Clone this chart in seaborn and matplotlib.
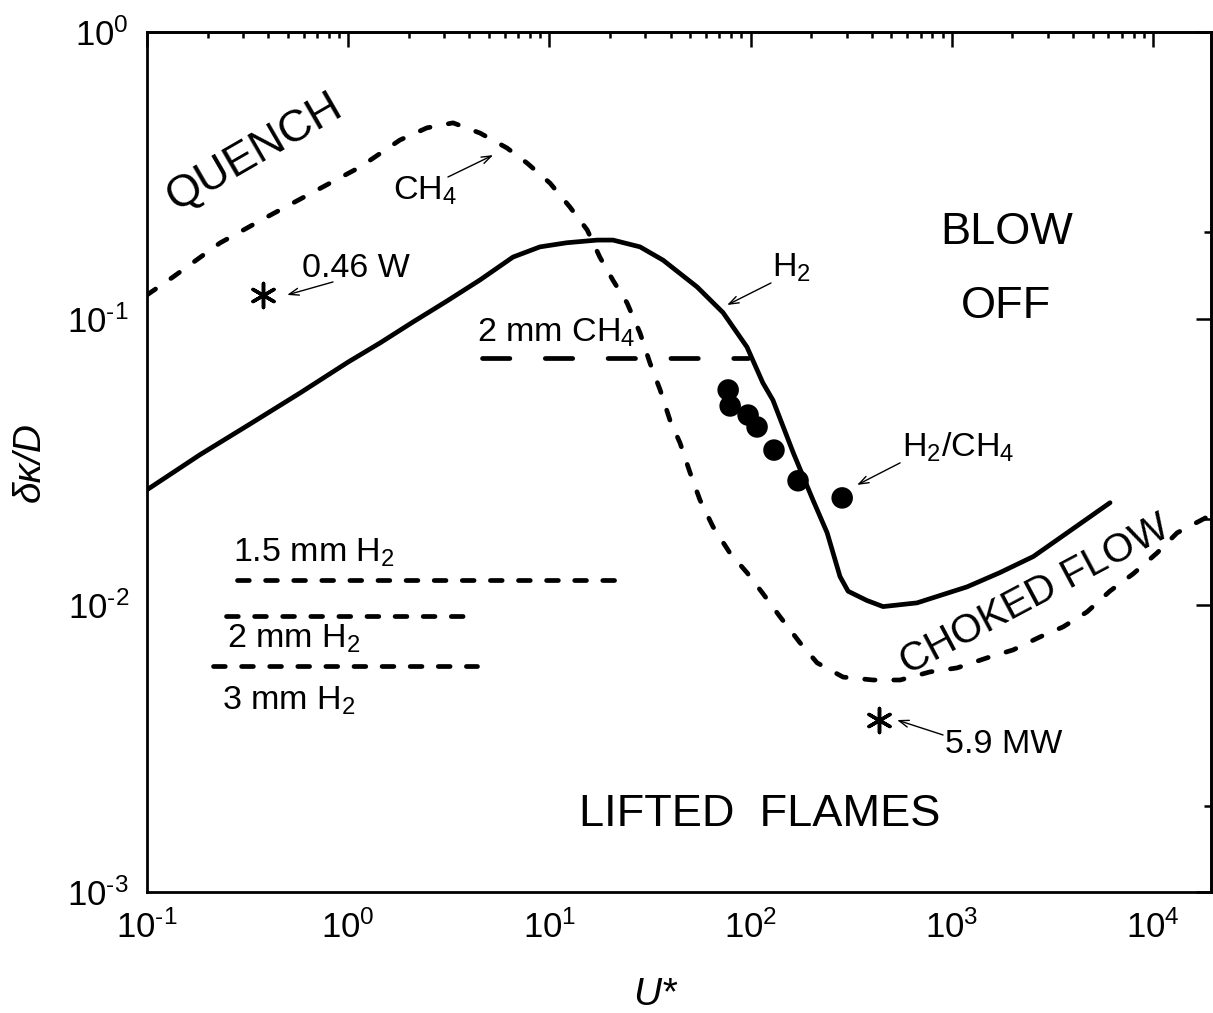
import numpy as np
import pandas as pd
import matplotlib
matplotlib.use("Agg")
import matplotlib.pyplot as plt
import seaborn as sns
from matplotlib.ticker import LogLocator, FixedLocator, NullFormatter, FuncFormatter

sns.set_style("white")
plt.rcParams['font.family'] = ['Liberation Sans', 'DejaVu Sans']
plt.rcParams['mathtext.fontset'] = 'custom'
plt.rcParams['mathtext.rm'] = 'Liberation Sans'
plt.rcParams['mathtext.it'] = 'Liberation Sans:italic'
plt.rcParams['mathtext.bf'] = 'Liberation Sans:bold'
plt.rcParams['axes.unicode_minus'] = False
plt.rcParams['text.color'] = 'black'
plt.rcParams['axes.labelcolor'] = 'black'
plt.rcParams['xtick.color'] = 'black'
plt.rcParams['ytick.color'] = 'black'
plt.rcParams['lines.dash_capstyle'] = 'round'

# ---------------- data ----------------
# H2 stability limit (solid)
h2_u = [0.1, 0.183, 0.325, 0.575, 1.0, 1.44, 2.10, 3.10, 4.52, 6.59, 8.97, 12.2, 17.3, 20.7,
        28.2, 36.7, 54.2, 72.9, 95.9, 115, 129, 163, 204, 240, 278, 305, 378, 455, 671,
        1190, 1730, 2540, 3740, 6110]
h2_d = [0.0253, 0.0335, 0.0429, 0.0550, 0.0706, 0.0823, 0.0974, 0.1153, 0.1365, 0.164, 0.178,
        0.184, 0.188, 0.188, 0.178, 0.160, 0.129, 0.105, 0.0796, 0.0597, 0.0520, 0.0340,
        0.0233, 0.0179, 0.0126, 0.0112, 0.0104, 0.0099, 0.0102, 0.0116, 0.0130, 0.0148,
        0.0179, 0.0228]

# CH4 stability limit (short dashes)
ch4_u = [0.1, 0.1346, 0.2306, 0.3945, 0.700, 1.145, 1.808, 2.46, 3.32, 4.52, 6.15, 7.74, 10.07,
         12.65, 15.4, 17.8, 20.7, 24.3, 28.2, 31.6, 35.5, 39.7, 44.6, 50.0, 56.0, 65.0, 79.0,
         95.9, 115, 140, 176, 214, 288, 406, 553, 780, 1062, 1497, 2015, 2743, 3570, 4700,
         6110, 7960, 10470, 13160, 19400]
ch4_d = [0.121, 0.1397, 0.1837, 0.2263, 0.281, 0.338, 0.420, 0.463, 0.482, 0.444, 0.394, 0.349,
         0.297, 0.245, 0.204, 0.164, 0.136, 0.1135, 0.0891, 0.0700, 0.0564, 0.0443, 0.0368,
         0.0290, 0.0233, 0.0188, 0.0152, 0.0130, 0.0110, 0.00912, 0.00740, 0.00630, 0.00562,
         0.00549, 0.00549, 0.00586, 0.00605, 0.00656, 0.00699, 0.00776, 0.00841, 0.00949,
         0.01122, 0.01288, 0.01524, 0.01790, 0.02066]

# H2/CH4 blends (filled circles)
mix_u = [77.3, 79.1, 97.1, 107.6, 130.6, 172, 285]
mix_d = [0.0564, 0.0496, 0.0461, 0.0419, 0.0348, 0.0272, 0.0237]

# Flame power points (asterisks)
star_labels = ['0.46 W', '5.9 MW']
star_u = [0.377, 435]
star_d = [0.121, 0.00398]

# Nozzle lines (horizontal)
nozzle_labels = ['1.5 mm H$_2$', '2 mm H$_2$', '3 mm H$_2$', '2 mm CH$_4$']
nozzle_u0 = [0.28, 0.247, 0.213, 4.63]
nozzle_u1 = [25.1, 4.17, 4.37, 97.0]
nozzle_d = [0.01227, 0.00918, 0.00615, 0.0729]

# ---------------- figure ----------------
fig = plt.figure(figsize=(12.13, 10.13), dpi=100)
ax = fig.add_axes([147/1213, 1 - 892/1013, (1211-147)/1213, (892-32)/1013])
ax.set_xscale('log')
ax.set_yscale('log')

LW = 3.4
curve_dash = (0, (2.2, 3.95))
h2_dash = (0, (2.5, 3.45))
long_dash = (0, (5.8, 7.5))

sns.lineplot(x=h2_u, y=h2_d, ax=ax, color='black', lw=LW, sort=False, estimator=None,
             solid_capstyle='round', solid_joinstyle='round')
sns.lineplot(x=ch4_u, y=ch4_d, ax=ax, color='black', lw=LW, sort=False, estimator=None,
             linestyle=curve_dash)
ax.lines[-1].set_dash_capstyle('round')

for lab, u0, u1, d in zip(nozzle_labels, nozzle_u0, nozzle_u1, nozzle_d):
    ls = long_dash if 'CH' in lab else h2_dash
    sns.lineplot(x=[u0, u1], y=[d, d], ax=ax, color='black', lw=LW, sort=False,
                 estimator=None, linestyle=ls)
    ax.lines[-1].set_dash_capstyle('round')

sns.scatterplot(x=mix_u, y=mix_d, ax=ax, color='black', s=240, edgecolor='none', zorder=5)
sns.scatterplot(x=star_u, y=star_d, ax=ax, color='black', marker=(6, 2, 0), s=300,
                linewidth=2.5, zorder=5)

ax.set_xlim(0.1, 1.94e4)
ax.set_ylim(1e-3, 1.0)


def pow_label(v, pos):
    e = int(round(np.log10(v)))
    return r'$10^{\text{%d}}$' % e


# ---------------- ticks ----------------
for sp in ax.spines.values():
    sp.set_linewidth(2.0)
    sp.set_color('black')
ax.xaxis.set_major_locator(LogLocator(base=10, numticks=20))
ax.xaxis.set_minor_locator(LogLocator(base=10, subs=np.arange(2, 10), numticks=50))
ax.yaxis.set_major_locator(LogLocator(base=10, numticks=20))
ax.yaxis.set_minor_locator(LogLocator(base=10, subs=np.arange(2, 10), numticks=50))
ax.xaxis.set_major_formatter(FuncFormatter(pow_label))
ax.yaxis.set_major_formatter(FuncFormatter(pow_label))
ax.xaxis.set_minor_formatter(NullFormatter())
ax.yaxis.set_minor_formatter(NullFormatter())
ax.tick_params(which='major', direction='in', length=11.5, width=1.8, labelsize=25,
               color='black', labelcolor='black')
ax.tick_params(axis='x', which='major', pad=13)
ax.tick_params(axis='y', which='major', pad=13)
ax.tick_params(which='minor', direction='out', length=6, width=1.8, color='black')

sec_top = ax.secondary_xaxis('top')
sec_top.xaxis.set_major_locator(LogLocator(base=10, numticks=20))
sec_top.xaxis.set_minor_locator(LogLocator(base=10, subs=np.arange(2, 10), numticks=50))
sec_top.xaxis.set_major_formatter(NullFormatter())
sec_top.xaxis.set_minor_formatter(NullFormatter())
sec_top.tick_params(which='major', direction='in', length=11, width=1.8)
sec_top.tick_params(which='minor', direction='in', length=4.5, width=1.8)
sec_top.spines['top'].set_linewidth(2.0)

sec_right = ax.secondary_yaxis('right')
sec_right.yaxis.set_major_locator(FixedLocator([1e-3, 1e-2, 1e-1, 1.0]))
sec_right.yaxis.set_minor_locator(FixedLocator([2e-3, 2e-2, 2e-1]))
sec_right.yaxis.set_major_formatter(NullFormatter())
sec_right.yaxis.set_minor_formatter(NullFormatter())
sec_right.tick_params(which='major', direction='in', length=11, width=1.8)
sec_right.tick_params(which='minor', direction='in', length=5, width=1.8)
sec_right.spines['right'].set_linewidth(2.0)

ax.set_xlabel('U*', fontsize=28, fontstyle='italic', va='center', ha='center')
ax.set_ylabel('δκ/D', fontsize=28, fontstyle='italic', va='center', ha='center')
ax.xaxis.set_label_coords(0.477, -0.120)
ax.yaxis.set_label_coords(-0.110, 0.5)

# ---------------- region labels ----------------
RFS = 32.5
ax.text(0.344, 0.381, 'QUENCH', fontsize=RFS, rotation=30, ha='center', va='center',
        rotation_mode='anchor')
ax.text(1879, 0.199, 'BLOW', fontsize=RFS, ha='center', va='center')
ax.text(1858, 0.1107, 'OFF', fontsize=RFS, ha='center', va='center')
ax.text(111.4, 0.00187, 'LIFTED  FLAMES', fontsize=RFS, ha='center', va='center')
ax.text(2589, 0.01087, 'CHOKED FLOW', fontsize=29, rotation=28, ha='center', va='center',
        rotation_mode='anchor')

# ---------------- annotations ----------------
AFS = 24.5
arrow = dict(arrowstyle='->,head_length=0.7,head_width=0.25', lw=1.0, color='black',
             shrinkA=0, shrinkB=0)

ax.text(0.589, 0.1397, star_labels[0], fontsize=AFS, ha='left', va='baseline')
ax.annotate('', xy=(0.497, 0.121), xytext=(0.840, 0.1343), arrowprops=arrow)

ax.text(1.670, 0.2595, 'CH$_4$', fontsize=AFS, ha='left', va='baseline')
ax.annotate('', xy=(5.25, 0.372), xytext=(3.13, 0.312), arrowprops=arrow)

ax.text(127.6, 0.1397, 'H$_2$', fontsize=AFS, ha='left', va='baseline')
ax.annotate('', xy=(76.4, 0.1116), xytext=(126.2, 0.1332), arrowprops=arrow)

ax.text(565, 0.0329, 'H$_2$/CH$_4$', fontsize=AFS, ha='left', va='baseline')
ax.annotate('', xy=(338, 0.0263), xytext=(553, 0.0314), arrowprops=arrow)

ax.text(925, 0.00306, star_labels[1], fontsize=AFS, ha='left', va='baseline')
ax.annotate('', xy=(534, 0.00398), xytext=(904, 0.00353), arrowprops=arrow)

ax.text(4.37, 0.0829, nozzle_labels[3], fontsize=AFS, ha='left', va='baseline')
ax.text(0.2675, 0.01417, nozzle_labels[0], fontsize=AFS, ha='left', va='baseline')
ax.text(0.250, 0.00710, nozzle_labels[1], fontsize=AFS, ha='left', va='baseline')
ax.text(0.236, 0.00432, nozzle_labels[2], fontsize=AFS, ha='left', va='baseline')

fig.savefig('out.png', dpi=100, facecolor='white')
